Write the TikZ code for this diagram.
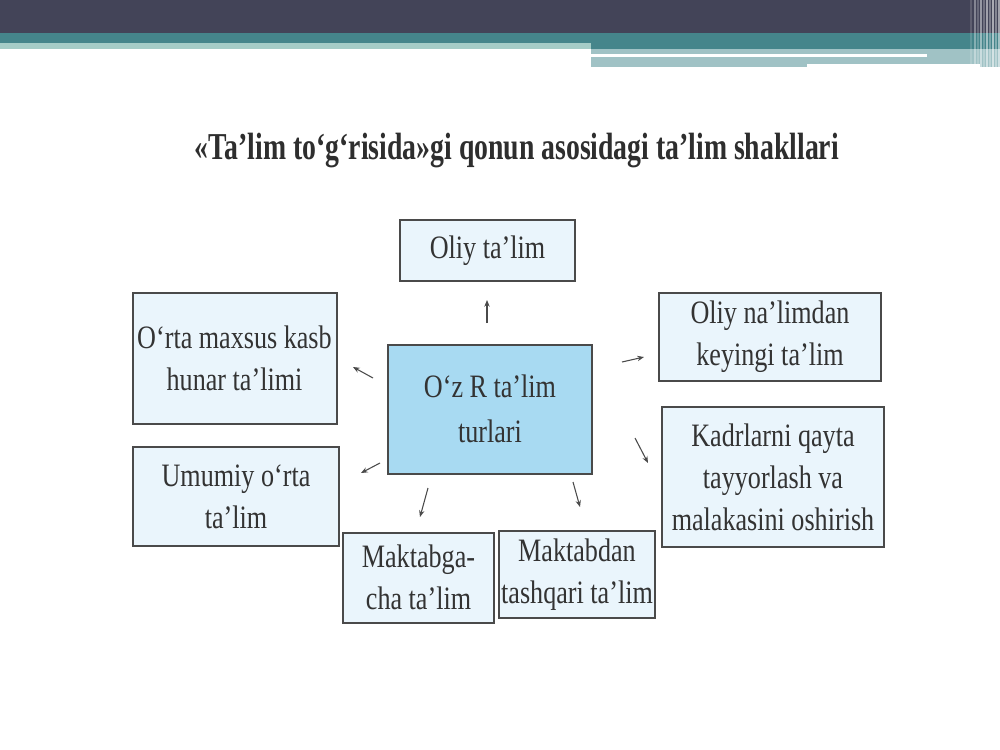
\documentclass[tikz,border=0pt]{standalone}
\usepackage{fontspec}
\setmainfont{Liberation Serif}
\newfontfamily\boxfont[FakeStretch=0.8]{Liberation Serif}
\newfontfamily\titlefont[FakeStretch=0.73]{Liberation Serif}
\usetikzlibrary{arrows.meta}
\newdimen\px \px=0.75pt
\definecolor{topdark}{HTML}{434458}
\definecolor{tealband}{HTML}{45858B}
\definecolor{lightteal}{HTML}{A5CCC7}
\definecolor{bandlight}{HTML}{A0C2C5}
\definecolor{boxfill}{HTML}{EAF5FC}
\definecolor{centerfill}{HTML}{A8DAF2}
\definecolor{boxline}{HTML}{4A4A4A}
\definecolor{txt}{HTML}{333333}
\tikzset{
  box/.style={draw=boxline, line width=1.5pt, fill=boxfill, inner sep=0pt,
    align=center, text=txt, font=\boxfont\fontsize{24.5}{31.5}\selectfont},
  cbox/.style={box, fill=centerfill, font=\boxfont\fontsize{24.5}{34}\selectfont},
  arr/.style={draw=boxline, line width=0.8pt, -{Stealth[length=5pt,width=4pt]}}
}
\begin{document}
\begin{tikzpicture}[x=0.75pt,y=-0.75pt]
\useasboundingbox (0,0) rectangle (1000,750);
\fill[white] (0,0) rectangle (1000,750);
% header bands
\fill[topdark] (0,0) rectangle (1000,33);
\fill[tealband] (0,33) rectangle (1000,49);
\fill[lightteal] (0,43) rectangle (591,49);
\fill[bandlight] (591,49) rectangle (807,67);
\fill[bandlight] (807,49) rectangle (1000,64);
\fill[white] (591,54) rectangle (927,57);
\fill[bandlight] (980,64) rectangle (1000,67);
\foreach \x/\o in {970/0.15,974/0.35,977/0.2,980/0.45,983/0.25,986/0.5,989/0.3,992/0.55,995/0.35,998/0.5}
  \fill[white, opacity=\o] (\x,0) rectangle (\x+2,67);
% title
\node[font=\titlefont\bfseries\fontsize{28.5}{32}\selectfont, text=txt!90!black] (title) at (517,151)
  {«Ta’lim to‘g‘risida»gi qonun asosidagi ta’lim shakllari};
% boxes
\node[box, minimum width=175\px, minimum height=61\px] (oliy) at (487.5,250.5) {Oliy ta’lim};
\node[box, minimum width=204\px, minimum height=131\px] (orta) at (234.5,358) {O‘rta maxsus kasb\\hunar ta’limi};
\node[cbox, minimum width=204\px, minimum height=129\px] (center) at (490,409) {O‘z R ta’lim\\turlari};
\node[box, minimum width=222\px, minimum height=88\px] (oliyna) at (770,337) {Oliy na’limdan\\keyingi ta’lim};
\node[box, minimum width=222\px, minimum height=140\px] (kadr) at (773,477) {Kadrlarni qayta\\tayyorlash va\\malakasini oshirish};
\node[box, minimum width=206\px, minimum height=99\px] (umumiy) at (236,496.5) {Umumiy o‘rta\\ta’lim};
\node[box, minimum width=151\px, minimum height=90\px] (maktabga) at (418.5,577.5) {Maktabga-\\cha ta’lim};
\node[box, minimum width=156\px, minimum height=87\px] (maktabdan) at (577,574.5) {Maktabdan\\tashqari ta’lim};
% arrow endpoints
\coordinate (a1s) at (487,323); \coordinate (a1e) at (487,300);
\coordinate (a2s) at (373,378); \coordinate (a2e) at (353,367);
\coordinate (a3s) at (380,463); \coordinate (a3e) at (361,473);
\coordinate (a4s) at (428,488); \coordinate (a4e) at (420,517);
\coordinate (a5s) at (573,482); \coordinate (a5e) at (580,507);
\coordinate (a6s) at (622,362); \coordinate (a6e) at (644,357);
\coordinate (a7s) at (635,438); \coordinate (a7e) at (648,463);
\foreach \i in {1,...,7} \draw[arr] (a\i s) -- (a\i e);
\end{tikzpicture}
\end{document}
